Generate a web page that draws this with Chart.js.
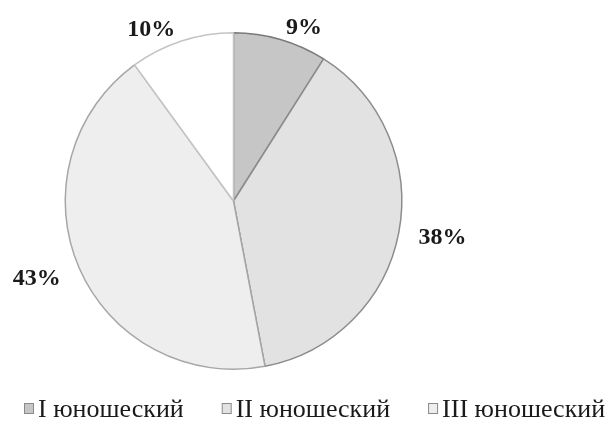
<!DOCTYPE html>
<html>
<head>
<meta charset="utf-8">
<script src="https://cdn.jsdelivr.net/npm/chart.js@4/dist/chart.umd.min.js"></script>
<style>
  html, body { margin: 0; padding: 0; background: #ffffff; }
  #wrap { width: 612px; height: 424px; position: relative; }
</style>
</head>
<body>
<div id="wrap"><canvas id="chart" width="612" height="424"></canvas></div>
<script>
// Share of athletes by youth sport category, percent
const categories = ['I юношеский', 'II юношеский', 'III юношеский', ''];
const shares = [9, 38, 43, 10];
const percentLabels = ['9%', '38%', '43%', '10%'];

const fills = ['#c6c6c6', '#e2e2e2', '#eeeeee', '#ffffff'];
const edges = ['#7a7a7a', '#8c8c8c', '#a6a6a6', '#c4c4c4'];

// Percent labels placed just outside each slice, on its middle angle
const outsideLabels = {
  id: 'outsideLabels',
  afterDatasetsDraw(chart) {
    const ctx = chart.ctx;
    const meta = chart.getDatasetMeta(0);
    ctx.save();
    ctx.font = 'bold 24px "Liberation Serif", "Times New Roman", serif';
    ctx.fillStyle = '#1a1a1a';
    ctx.textBaseline = 'middle';
    meta.data.forEach((arc, i) => {
      const { x, y, startAngle, endAngle, outerRadius } = arc.getProps(['x', 'y', 'startAngle', 'endAngle', 'outerRadius'], true);
      const mid = (startAngle + endAngle) / 2;
      const r = outerRadius + 20;
      const ax = x + Math.cos(mid) * r;
      const ay = y + Math.sin(mid) * r + 8 * Math.abs(Math.sin(mid));
      ctx.textAlign = Math.cos(mid) >= 0 ? 'left' : 'right';
      ctx.fillText(percentLabels[i], ax, ay);
    });
    ctx.restore();
  }
};

// Row of legend entries under the pie
const bottomLegend = {
  id: 'bottomLegend',
  afterDraw(chart) {
    const ctx = chart.ctx;
    ctx.save();
    ctx.font = '26px "Liberation Serif", "Times New Roman", serif';
    ctx.textBaseline = 'alphabetic';
    let x = 24;
    const base = 417;
    categories.forEach((name, i) => {
      if (!name) return;
      ctx.fillStyle = fills[i];
      ctx.fillRect(x + 0.5, base - 13.5, 9, 10);
      ctx.strokeStyle = '#8a8a8a';
      ctx.lineWidth = 1;
      ctx.strokeRect(x + 0.5, base - 13.5, 9, 10);
      ctx.fillStyle = '#1a1a1a';
      ctx.textAlign = 'left';
      ctx.fillText(name, x + 14, base);
      x += 14 + ctx.measureText(name).width + 38;
    });
    ctx.restore();
  }
};

new Chart(document.getElementById('chart'), {
  type: 'pie',
  data: {
    labels: categories,
    datasets: [{
      data: shares,
      backgroundColor: fills,
      borderColor: edges,
      borderWidth: 1.5
    }]
  },
  options: {
    responsive: false,
    animation: false,
    layout: { padding: { left: 64, right: 209, top: 32, bottom: 54 } },
    plugins: {
      legend: { display: false },
      tooltip: { enabled: false }
    }
  },
  plugins: [outsideLabels, bottomLegend]
});
</script>
</body>
</html>
